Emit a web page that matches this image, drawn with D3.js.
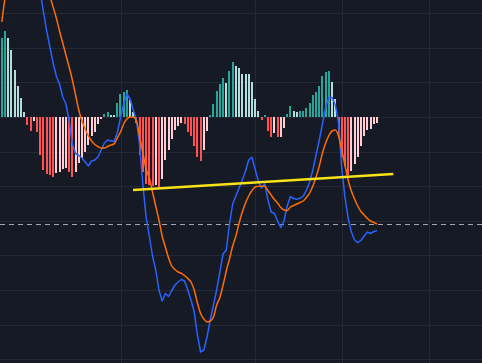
<!DOCTYPE html>
<html><head><meta charset="utf-8">
<script src="https://cdn.jsdelivr.net/npm/d3@7"></script>
<style>html,body{margin:0;padding:0;background:#161a25;overflow:hidden}</style>
</head><body><svg id="c" width="482" height="363"></svg>
<script>
// Histogram (MACD - signal), one value per bar
const hist = [79,86,79,67,47,31,19,5,-8,-14,
  -4,-14.5,-38,-53,-57,-58,-59.5,-56,-54.5,-52,
  -50.5,-54.5,-59.5,-54.5,-45.5,-40.5,-34.5,-28,-18.5,-15,
  -7,-1.5,3.5,5.5,2.5,2.2,14.5,23,25.5,27.5,
  16.5,5.5,-6,-38,-55,-66.5,-67.7,-69.4,-67.7,-70.4,
  -62,-43,-33,-22,-13,-9,-6,-6.5,-15.4,-19.4,
  -29.4,-40.4,-44,-33,-14.4,2.3,13.3,26.3,33.3,39,
  34,46.3,55,51.3,49,43.3,43.2,43.1,34.6,18,
  6.3,-2.5,2.3,-14.4,-20.4,-16.2,-20.3,-20,-11.4,3.3,
  11.3,6.3,4.6,5.6,6.3,9,13.6,22.3,25,30.6,
  41.3,45,46.3,35,18.3,-21,-40,-49.4,-57.7,-54.4,
  -47,-39.7,-28.7,-19.4,-12.7,-12,-7,-6];
// MACD line
const macd = [174,203,215,220,212,204,196,183,169,159,
  152,142,125,105,86,70,54,41,33,20,
  13,-4,-27,-36.5,-38.5,-41,-45,-49,-44,-43,
  -40,-33,-26,-23,-23.7,-24.5,-16,-1,13,23,
  18,7,-3,-29,-68,-100,-119,-139,-153,-173,
  -184,-176.5,-179.5,-173.5,-168,-165,-162.5,-164,-173,-183,
  -195,-218,-235,-233,-220,-203,-188,-173,-155,-137,
  -133,-107,-87,-79,-71,-63,-54,-43,-40.3,-52.5,
  -64,-71,-67,-83,-95,-96.5,-104,-110.5,-104,-89,
  -79.5,-81.5,-82.3,-81.3,-79,-73,-65,-53,-38,-23,
  -7,10,19.5,19.5,12,-5,-51,-80,-101,-115,
  -123,-125.7,-123.5,-119,-115,-116.5,-114.5,-113.7];
// Signal line
const signal = [95,119,137,153,165,173,177,178.5,176.5,173,
  172,168,159,146,133,121,110,99,86,74,
  62,50,37,22,7,-4,-12,-19,-24,-27.5,
  -29.5,-31,-31,-29.5,-28,-27,-21,-15,-7,-2,
  0,0,-4,-20,-36,-52,-61,-75,-89,-103,
  -119,-130,-141,-149,-152.5,-155,-156.3,-158.5,-161.5,-165,
  -173,-186,-196.5,-202,-205,-204,-200,-188,-180.5,-168,
  -154,-142,-129,-119,-106,-95,-86,-79,-73.5,-70,
  -69.3,-69.2,-69.3,-73.5,-78,-82.5,-86,-90.5,-93,-93.5,
  -90,-88.5,-87,-85.5,-84,-80.5,-76,-69,-60,-49,
  -36,-26,-18.5,-14,-13,-19,-33,-48,-63,-74,
  -82,-89,-94.5,-98,-101.5,-104,-105.5,-107];
// Vertical grid positions (in bar-index units) and horizontal grid step
const gridTimes = [37.39, 79.11, 106.18, 133.31];
const gridLevelStep = 34.6;
const gridLevelCounts = [-7, 4];
// Trend line (bar index, value) and horizontal dashed level
const trendIdx = [40.91, 122.09];
const trendVal = [-73, -57];
const levelValue = -107;

const W = 482, H = 363;
const svg = d3.select('#c');
const x = d3.scaleLinear().domain([0, 117]).range([1.8, 377]);
const y = d3.scaleLinear().domain([-246, 117]).range([H, 0]);

svg.append('rect').attr('width', W).attr('height', H).attr('fill', '#161a25');

const levels = d3.range(gridLevelCounts[0], gridLevelCounts[1]).map(k => k * gridLevelStep);
const grid = svg.append('g').attr('stroke', '#252935').attr('stroke-width', 1).attr('shape-rendering', 'crispEdges');
grid.selectAll('line.h').data(levels).join('line').attr('class', 'h')
  .attr('x1', 0).attr('x2', W)
  .attr('y1', d => Math.round(y(d)) + 0.5).attr('y2', d => Math.round(y(d)) + 0.5);
grid.selectAll('line.v').data(gridTimes).join('line').attr('class', 'v')
  .attr('y1', 0).attr('y2', H)
  .attr('x1', d => Math.floor(x(d)) + 0.5).attr('x2', d => Math.floor(x(d)) + 0.5);

function barColor(i) {
  const v = hist[i], p = i > 0 ? hist[i - 1] : -Infinity;
  if (v >= 0) return v >= p ? '#26a69a' : '#b2dfdb';
  return v <= p ? '#ff5252' : '#ffcdd2';
}
const idx = d3.range(hist.length);
svg.append('g').attr('shape-rendering', 'crispEdges').selectAll('rect').data(idx).join('rect')
  .attr('x', i => Math.round(x(i) - 1))
  .attr('width', 2)
  .attr('y', i => Math.round(y(Math.max(0, hist[i]))))
  .attr('height', i => Math.max(1, Math.round(y(Math.min(0, hist[i]))) - Math.round(y(Math.max(0, hist[i])))))
  .attr('fill', barColor);

// dashed level
svg.append('line')
  .attr('x1', 0).attr('x2', W)
  .attr('y1', Math.round(y(levelValue)) + 0.5).attr('y2', Math.round(y(levelValue)) + 0.5)
  .attr('stroke', '#a5a8b0').attr('stroke-width', 1).attr('stroke-dasharray', '5,4');

const lineGen = d3.line().x((d, i) => x(i)).y(d => y(d));
svg.append('path').datum(macd).attr('d', lineGen)
  .attr('fill', 'none').attr('stroke', '#2962ff').attr('stroke-width', 1.5).attr('stroke-linejoin', 'round');
svg.append('path').datum(signal).attr('d', lineGen.curve(d3.curveMonotoneX))
  .attr('fill', 'none').attr('stroke', '#ff6d00').attr('stroke-width', 1.5);

svg.append('line')
  .attr('x1', x(trendIdx[0])).attr('y1', y(trendVal[0]))
  .attr('x2', x(trendIdx[1])).attr('y2', y(trendVal[1]))
  .attr('stroke', '#f7e318').attr('stroke-width', 2.5).attr('stroke-linecap', 'butt');
</script>
</body></html>
